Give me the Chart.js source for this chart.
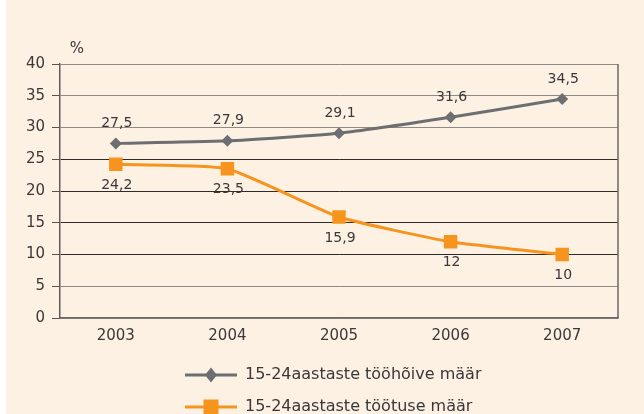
<!DOCTYPE html>
<html><head><meta charset="utf-8">
<script src="https://cdn.jsdelivr.net/npm/chart.js@4/dist/chart.umd.min.js"></script>
<style>html,body{margin:0;padding:0;background:#fff;}#wrap{width:644px;height:414px;}</style>
</head><body><div id="wrap"><canvas id="c" width="644" height="414"></canvas></div>
<script>
const years = ['2003', '2004', '2005', '2006', '2007'];
const employmentRate = [27.5, 27.9, 29.1, 31.6, 34.5];
const unemploymentRate = [24.2, 23.5, 15.9, 12, 10];
const yMin = 0, yMax = 40, yStep = 5;
const darkGridValues = [10, 15, 20, 25];
const seriesNames = ['15-24aastaste tööhõive määr', '15-24aastaste töötuse määr'];
const unitLabel = '%';

const FONT = '"DejaVu Sans", sans-serif';
const TEXT = '#3a3838';
const GRAY = '#6d6e71';
const ORANGE = '#f7941e';
const fmt = v => String(v).replace('.', ',');

const bgPlugin = {
  id: 'bg',
  beforeDraw(chart) {
    const c = chart.ctx;
    c.save();
    c.fillStyle = '#ffffff';
    c.fillRect(0, 0, chart.width, chart.height);
    c.fillStyle = '#fdf1e4';
    c.fillRect(6, 0, chart.width - 6, chart.height);
    c.restore();
  }
};

const decoPlugin = {
  id: 'deco',
  beforeDatasetsDraw(chart) {
    const c = chart.ctx, a = chart.chartArea;
    c.save();
    c.strokeStyle = '#6a6766';
    c.lineWidth = 1.5;
    c.beginPath();
    c.moveTo(a.right, a.top);
    c.lineTo(a.right, a.bottom);
    c.stroke();
    c.fillStyle = TEXT;
    c.font = '15px ' + FONT;
    c.textAlign = 'center';
    c.textBaseline = 'middle';
    c.fillText(unitLabel, a.left + 17, a.top - 15);
    c.restore();
  },
  afterDatasetsDraw(chart) {
    const c = chart.ctx;
    c.save();
    c.font = '14px ' + FONT;
    c.fillStyle = TEXT;
    c.textAlign = 'center';
    c.textBaseline = 'middle';
    chart.data.datasets.forEach((ds, di) => {
      const meta = chart.getDatasetMeta(di);
      meta.data.forEach((el, i) => {
        const off = di === 0 ? -20 : 21;
        c.fillText(fmt(ds.data[i]), el.x + 1, el.y + off);
      });
    });
    c.restore();
  },
  afterDraw(chart) {
    const c = chart.ctx, a = chart.chartArea;
    const left = a.left + 125;
    const rows = [a.bottom + 57, a.bottom + 89];
    c.save();
    chart.data.datasets.forEach((ds, di) => {
      const y = rows[di];
      c.strokeStyle = ds.borderColor;
      c.lineWidth = 3;
      c.beginPath();
      c.moveTo(left, y);
      c.lineTo(left + 52, y);
      c.stroke();
      const cx = left + 26;
      c.fillStyle = ds.backgroundColor;
      c.beginPath();
      if (di === 0) {
        c.moveTo(cx - 6, y); c.lineTo(cx, y - 7.5); c.lineTo(cx + 6, y); c.lineTo(cx, y + 7.5);
        c.closePath();
      } else {
        c.rect(cx - 7.5, y - 7.5, 15, 15);
      }
      c.fill();
      c.fillStyle = TEXT;
      c.font = '16px ' + FONT;
      c.textAlign = 'left';
      c.textBaseline = 'middle';
      c.fillText(ds.label, left + 60, y);
    });
    c.restore();
  }
};

new Chart(document.getElementById('c'), {
  type: 'line',
  data: {
    labels: years,
    datasets: [
      {
        label: seriesNames[0],
        data: employmentRate,
        borderColor: GRAY,
        backgroundColor: GRAY,
        borderWidth: 3,
        pointStyle: 'rectRot',
        pointRadius: 6,
        pointBorderWidth: 0,
        tension: 0.15
      },
      {
        label: seriesNames[1],
        data: unemploymentRate,
        borderColor: ORANGE,
        backgroundColor: ORANGE,
        borderWidth: 3,
        pointStyle: 'rect',
        pointRadius: 9.5,
        pointBorderWidth: 0,
        tension: 0.15
      }
    ]
  },
  options: {
    responsive: false,
    devicePixelRatio: 1,
    animation: false,
    layout: { padding: { left: 0, right: 26, top: 64, bottom: 0 } },
    plugins: { legend: { display: false }, tooltip: { enabled: false } },
    scales: {
      x: {
        offset: true,
        grid: { display: false, drawTicks: false },
        border: { color: '#6a6766', width: 1.5 },
        ticks: { font: { family: FONT, size: 15 }, color: TEXT, padding: 9, maxRotation: 0 },
        afterFit: s => { s.height = 96; }
      },
      y: {
        min: yMin, max: yMax,
        ticks: { stepSize: yStep, font: { family: FONT, size: 15 }, color: TEXT, padding: 7 },
        grid: {
          color: ctx => darkGridValues.includes(ctx.tick && ctx.tick.value) ? '#2d2a28' : '#8e8a86',
          lineWidth: 1,
          tickLength: 8,
          tickColor: '#555250'
        },
        border: { color: '#5e5b59', width: 1.5 },
        afterFit: s => { s.width = 60; }
      }
    }
  },
  plugins: [bgPlugin, decoPlugin]
});
</script></body></html>
